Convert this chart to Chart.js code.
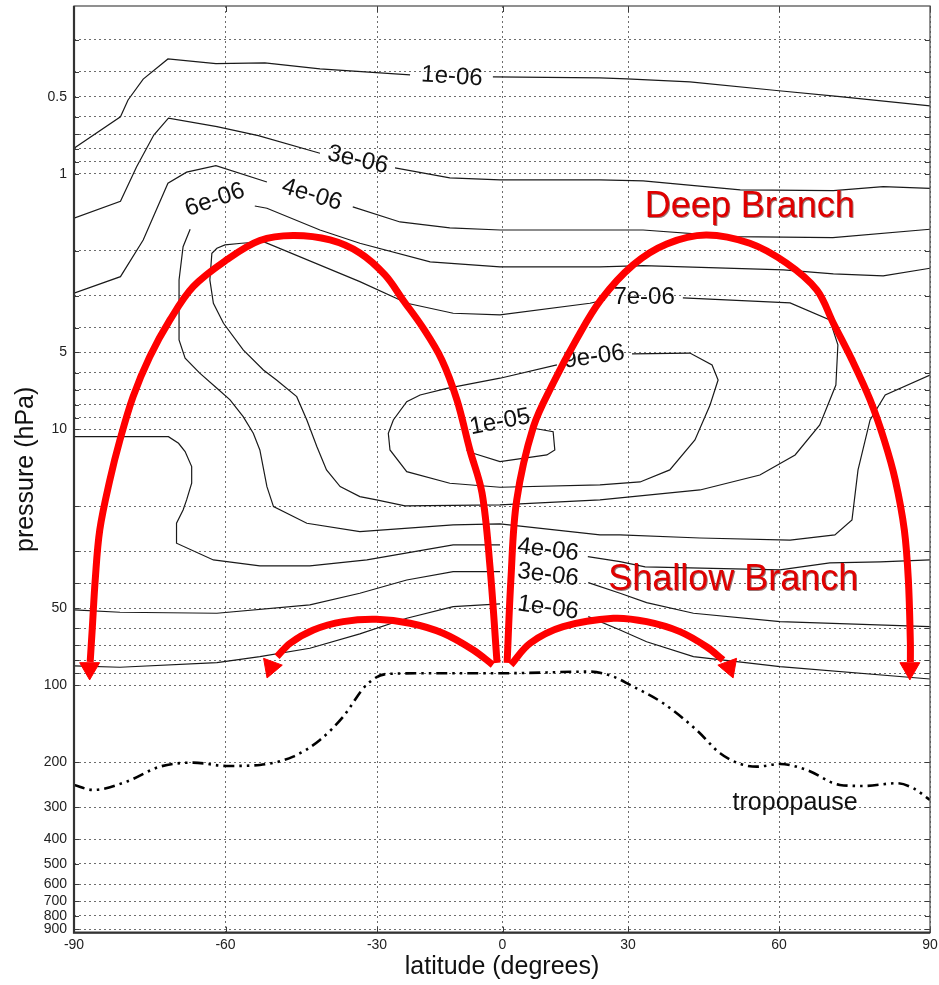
<!DOCTYPE html>
<html>
<head>
<meta charset="utf-8">
<script src="https://cdn.jsdelivr.net/npm/chart.js@4.4.1/dist/chart.umd.min.js"></script>
<style>
  html, body { margin: 0; padding: 0; background: #ffffff; }
  #wrap { width: 939px; height: 985px; }
</style>
</head>
<body>
<div id="wrap"><canvas id="c" width="939" height="985"></canvas></div>
<script>
// ---- axis values ----------------------------------------------------------
const LAT_TICKS = [-90, -60, -30, 0, 30, 60, 90];
const PRESSURE_LABELS = [0.5, 1, 5, 10, 50, 100, 200, 300, 400, 500, 600, 700, 800, 900];
const PRESSURE_MIN = 0.221;
const PRESSURE_MAX = 930;

// ---- contour lines: [latitude, pressure hPa] ----------------------------
const c1e6Top  = [[-90,0.796],[-80.8,0.599],[-79.3,0.515],[-76.3,0.427],[-71.4,0.356],[-61.9,0.371],[-52.2,0.369],[-41.3,0.389],[-22.1,0.411]];
const c1e6TopB = [[-2.3,0.418],[23.3,0.422],[29.7,0.426],[42.3,0.438],[59.5,0.473],[72.1,0.500],[90,0.543]];

const c3e6Top  = [[-90,1.494],[-80.8,1.282],[-77.6,0.939],[-74.2,0.706],[-71.3,0.607],[-61.7,0.655],[-53.5,0.710],[-41.3,0.832]];
const c3e6TopB = [[-25.7,0.950],[-12.6,1.039],[-0.6,1.058],[23.3,1.058],[33.0,1.068],[52.3,1.158],[70.8,1.166],[80.7,1.124],[90,1.141]];

const c4e6Top  = [[-90,2.935],[-80.8,2.528],[-76.3,1.817],[-71.4,1.090],[-67.7,0.987],[-61.9,0.930],[-51.8,1.078]];
const c4e6TopB = [[-34.8,1.349],[-24.5,1.545],[-12.6,1.631],[-0.6,1.661],[23.3,1.661],[33.0,1.661],[50.9,1.764],[70.7,1.780],[90,1.650]];

const c4e6Low  = [[-90,10.68],[-71.3,10.68],[-69.3,11.34],[-68.0,12.22],[-66.7,13.99],[-66.7,16.25],[-67.7,18.88],[-68.4,20.66],[-69.7,23.29],[-69.7,27.88],[-62.4,32.42],[-53.2,34.21],[-43.3,34.21],[-32.0,32.42],[-11.8,28.32],[-0.6,28.32]];
const c4e6LowB = [[20.4,31.47],[28.1,32.91],[33.4,34.52],[60.2,35.47],[70.1,33.3],[80.1,33.0],[90,32.42]];

const c6e6A = [[90,2.344],[80.7,2.512],[70.8,2.468],[60.9,2.380],[33.0,2.290],[23.3,2.315],[-0.6,2.317],[-17.3,2.214],[-33.4,1.872],[-41.3,1.661],[-51.8,1.366],[-54.2,1.338]];
const c6e6B = [[-67.0,1.650],[-68.4,1.930],[-69.2,2.604],[-69.2,4.47],[-68.0,5.27],[-65.1,6.03],[-61.7,6.91],[-59.1,7.67],[-56.5,8.92],[-54.5,10.36],[-53.2,12.04],[-51.8,16.75],[-50.5,20.06],[-43.9,23.29],[-33.4,25.12],[-11.8,23.65],[-0.6,23.44],[23.3,25.88],[28.1,25.88],[44.3,26.6],[62.2,27.1],[71.1,25.88],[74.5,22.61],[75.7,14.41],[78.1,9.19],[81.1,7.34],[90,6.13]];

const c7e6 = [[40.9,3.063],[62.2,3.204],[70.1,3.734],[71.7,4.676],[71.3,6.71],[68.1,9.61],[63.2,12.59],[56.2,15.08],[44.3,17.26],[23.3,18.88],[-0.6,19.75],[-23.3,19.93],[-30.1,18.88],[-33.4,18.33],[-37.3,16.75],[-40.0,14.41],[-41.9,11.69],[-43.9,9.19],[-45.9,7.45],[-49.9,6.41],[-52.5,5.86],[-56.5,4.89],[-60.4,3.847],[-62.4,3.213],[-63.1,2.604],[-62.7,2.048],[-61.7,1.958],[-60.1,1.900],[-56.8,1.872],[-52.5,1.845],[-33.4,2.645],[-22.8,3.213],[-11.8,3.516],[-0.6,3.569],[20.9,3.213],[24.5,3.118]];

const c9e6 = [[30.8,5.07],[42.3,5.03],[46.7,5.60],[47.9,6.41],[46.3,8.03],[43.3,11.00],[38.3,14.41],[32.4,16.06],[23.3,16.50],[-0.6,16.84],[-12.6,16.25],[-22.9,14.64],[-26.9,12.04],[-27.3,10.36],[-26.1,9.19],[-22.9,7.79],[-19.7,7.34],[-13.3,6.91],[-0.6,6.31],[13.0,5.60]];

const c1e5 = [[7.4,9.90],[12.1,10.21],[12.5,12.04],[10.6,12.59],[-0.6,13.38],[-7.0,12.40],[-8.6,12.04]];

const c3e6Low  = [[-90,50.85],[-80.9,51.92],[-61.7,52.39],[-43.3,48.61],[-33.4,43.75],[-22.9,38.82],[-11.8,36.02],[-0.6,36.02]];
const c3e6LowB = [[20.5,39.77],[28.1,43.75],[33.7,47.62],[43.0,52.39],[60.2,56.49],[90,59.10]];

const c1e6Low  = [[-90,84.2],[-80.9,85.2],[-61.7,81.7],[-53.2,77.4],[-43.3,71.8],[-33.4,63.1],[-22.9,54.8],[-11.8,49.36],[-0.6,48.18]];
const c1e6LowB = [[20.5,54.0],[28.1,60.9],[33.7,67.7],[43.0,77.4],[60.2,84.7],[90,94.7]];

// ---- tropopause ----------------------------------------------------------
const tropopause = [[-90,245.9],[-86.2,257.2],[-79.6,238.7],[-73.0,208.5],[-66.4,201.1],[-59.8,207.2],[-53.2,205.3],[-46.6,190.5],[-41.3,163.9],[-36.7,132.9],[-32.1,99.9],[-27.7,90.5],[-18.1,89.9],[0.2,89.9],[20.9,88.6],[26.5,92.7],[30.4,99.9],[37.0,117.8],[43.6,149.8],[48.3,184.8],[52.3,203.5],[55.6,208.5],[60.2,203.5],[65.5,214.8],[72.1,245.9],[76.7,248.1],[83.4,242.1],[86.7,253.3],[90,281.4]];

// ---- circulation branches ------------------------------------------------
const deepSouth = [[-1.3,81.9],[-3.0,34.4],[-4.9,17.73],[-7.8,12.04],[-10.9,7.67],[-14.5,5.35],[-19.0,4.012],[-23.8,3.118],[-28.1,2.490],[-33.4,2.042],[-39.3,1.816],[-46.6,1.745],[-53.2,1.825],[-59.8,2.175],[-66.4,2.766],[-71.0,3.734],[-75.0,5.20],[-78.3,7.45],[-80.9,11.00],[-82.9,15.77],[-84.9,24.74],[-85.8,38.81],[-86.4,60.9],[-86.8,81.2]];
const deepNorth = [[1.1,81.9],[2.0,38.81],[3.4,18.88],[7.4,9.76],[12.1,6.60],[17.6,4.47],[23.5,3.118],[31.0,2.276],[37.7,1.883],[45.5,1.737],[54.2,1.872],[61.5,2.240],[67.5,2.850],[70.8,3.847],[74.5,5.35],[78.1,7.67],[80.9,11.00],[83.1,15.77],[84.9,24.74],[85.7,38.81],[86.1,68.6],[86.1,81.2]];
const shallowSouth = [[-2.3,83.4],[-7.0,72.9],[-14.2,62.7],[-22.1,57.3],[-30.1,55.3],[-36.7,56.5],[-42.6,60.9],[-47.2,68.6],[-49.8,77.4]];
const shallowNorth = [[2.0,83.4],[6.6,68.6],[14.5,59.1],[26.5,54.8],[33.7,56.5],[40.3,61.8],[45.6,70.8],[48.9,79.8]];
const arrowHeads = [[-86.9,86.1],[86.0,86.1],[-51.0,85.1],[50.1,85.1]];
const arrowHeadTurn = [180, 180, 200, 160];

// ---- text placed in data coordinates -------------------------------------
const contourLabels = [
  { text: '1e-06', lat: -12.1, p: 0.418, angle: 4 },
  { text: '3e-06', lat: -33.8, p: 0.884, angle: 13 },
  { text: '4e-06', lat: -42.9, p: 1.211, angle: 17 },
  { text: '6e-06', lat: -62.1, p: 1.267, angle: -19 },
  { text: '7e-06', lat: 33.2,  p: 3.035, angle: 0 },
  { text: '9e-06', lat: 21.9,  p: 5.21,  angle: -8 },
  { text: '1e-05', lat: -0.6,  p: 9.36,  angle: -11 },
  { text: '4e-06', lat: 10.9,  p: 29.63, angle: 7 },
  { text: '3e-06', lat: 10.9,  p: 37.11, angle: 7 },
  { text: '1e-06', lat: 10.9,  p: 49.94, angle: 8 }
];
const branchLabels = [
  { text: 'Deep Branch',    lat: 54.2, p: 1.349 },
  { text: 'Shallow Branch', lat: 50.9, p: 38.81 }
];
const tropopauseLabel = { text: 'tropopause', lat: 63.2, p: 289.1 };

// ---- latitude axis with its own tick spacing -----------------------------
const AXIS_STOPS = [0, 0.177, 0.354, 0.5006, 0.6472, 0.8236, 1];

function latToFraction(lat) {
  for (let i = 1; i < LAT_TICKS.length; i++) {
    if (lat <= LAT_TICKS[i] || i === LAT_TICKS.length - 1) {
      const t = (lat - LAT_TICKS[i - 1]) / (LAT_TICKS[i] - LAT_TICKS[i - 1]);
      return AXIS_STOPS[i - 1] + t * (AXIS_STOPS[i] - AXIS_STOPS[i - 1]);
    }
  }
  return 0;
}
function fractionToLat(f) {
  for (let i = 1; i < AXIS_STOPS.length; i++) {
    if (f <= AXIS_STOPS[i] || i === AXIS_STOPS.length - 1) {
      const t = (f - AXIS_STOPS[i - 1]) / (AXIS_STOPS[i] - AXIS_STOPS[i - 1]);
      return LAT_TICKS[i - 1] + t * (LAT_TICKS[i] - LAT_TICKS[i - 1]);
    }
  }
  return 0;
}

class LatitudeScale extends Chart.LinearScale {
  getPixelForValue(value) {
    return this.getPixelForDecimal(latToFraction(value));
  }
  getValueForPixel(pixel) {
    return fractionToLat(this.getDecimalForPixel(pixel));
  }
}
LatitudeScale.id = 'latitude';
LatitudeScale.defaults = {};
Chart.register(LatitudeScale);

// ---- helpers ---------------------------------------------------------------
const FONT = "'Liberation Sans', Arial, Helvetica, sans-serif";
const toPoints = arr => arr.map(([x, y]) => ({ x, y }));

const pressureGrid = [];
for (let d = -1; d <= 2; d++) {
  for (let m = 1; m <= 9; m++) {
    const v = Number((m * Math.pow(10, d)).toPrecision(3));
    if (v >= PRESSURE_MIN && v <= PRESSURE_MAX) pressureGrid.push(v);
  }
}

function contourSet(arr) {
  return { data: toPoints(arr), borderColor: '#1a1a1a', borderWidth: 1.2, pointRadius: 0, tension: 0, fill: false, order: 3 };
}
function branchSet(arr) {
  return { data: toPoints(arr), borderColor: '#ff0000', borderWidth: 7, pointRadius: 0, tension: 0.35, fill: false, order: 0, borderCapStyle: 'butt' };
}

const datasets = [
  branchSet(deepSouth), branchSet(deepNorth), branchSet(shallowSouth), branchSet(shallowNorth),
  { data: toPoints(arrowHeads), showLine: false, pointStyle: 'triangle', pointRadius: 11.5,
    pointRotation: arrowHeadTurn, pointBackgroundColor: '#ff0000', pointBorderColor: '#ff0000',
    pointBorderWidth: 1, order: 0 },
  { data: toPoints(tropopause), borderColor: '#000000', borderWidth: 2.6, borderDash: [11, 5, 2.5, 5, 2.5, 5],
    pointRadius: 0, tension: 0, cubicInterpolationMode: 'monotone', fill: false, order: 1 },
  contourSet(c1e6Top), contourSet(c1e6TopB), contourSet(c3e6Top), contourSet(c3e6TopB),
  contourSet(c4e6Top), contourSet(c4e6TopB), contourSet(c4e6Low), contourSet(c4e6LowB),
  contourSet(c6e6A), contourSet(c6e6B), contourSet(c7e6), contourSet(c9e6), contourSet(c1e5),
  contourSet(c3e6Low), contourSet(c3e6LowB), contourSet(c1e6Low), contourSet(c1e6LowB)
];

function drawText(ctx, text, x, y, font, color, angle) {
  ctx.save();
  ctx.translate(x, y);
  ctx.rotate((angle || 0) * Math.PI / 180);
  ctx.font = font;
  ctx.fillStyle = color;
  ctx.textAlign = 'center';
  ctx.textBaseline = 'middle';
  ctx.fillText(text, 0, 0);
  ctx.restore();
}

const annotations = {
  id: 'annotations',
  beforeDatasetsDraw(chart) {
    const { ctx, scales: { x, y } } = chart;
    contourLabels.forEach(l => {
      drawText(ctx, l.text, x.getPixelForValue(l.lat), y.getPixelForValue(l.p), '24px ' + FONT, '#111111', l.angle);
    });
    drawText(ctx, tropopauseLabel.text, x.getPixelForValue(tropopauseLabel.lat), y.getPixelForValue(tropopauseLabel.p), '25px ' + FONT, '#111111', 0);
  },
  afterDatasetsDraw(chart) {
    const { ctx, chartArea: a, scales: { x, y } } = chart;
    branchLabels.forEach(l => {
      ctx.save();
      ctx.shadowColor = 'rgba(70,0,0,0.55)';
      ctx.shadowOffsetX = 1;
      ctx.shadowOffsetY = 1;
      ctx.shadowBlur = 0.5;
      drawText(ctx, l.text, x.getPixelForValue(l.lat), y.getPixelForValue(l.p), '36px ' + FONT, '#e00000', 0);
      ctx.restore();
    });
    // frame and inward tick marks
    ctx.save();
    ctx.strokeStyle = '#3a3a3a';
    ctx.lineWidth = 1;
    ctx.beginPath();
    y.ticks.forEach(t => {
      const py = Math.round(y.getPixelForValue(t.value)) + 0.5;
      ctx.moveTo(a.left, py); ctx.lineTo(a.left + 5, py);
      ctx.moveTo(a.right, py); ctx.lineTo(a.right - 5, py);
    });
    x.ticks.forEach(t => {
      const px = Math.round(x.getPixelForValue(t.value)) + 0.5;
      ctx.moveTo(px, a.bottom); ctx.lineTo(px, a.bottom - 6);
      ctx.moveTo(px, a.top); ctx.lineTo(px, a.top + 6);
    });
    ctx.stroke();
    ctx.strokeStyle = '#555555';
    ctx.lineWidth = 1.3;
    ctx.strokeRect(a.left, a.top, a.right - a.left, a.bottom - a.top);
    ctx.strokeStyle = '#333333';
    ctx.lineWidth = 2.2;
    ctx.beginPath();
    ctx.moveTo(a.left, a.top); ctx.lineTo(a.left, a.bottom); ctx.lineTo(a.right, a.bottom);
    ctx.stroke();
    ctx.restore();
  }
};

new Chart(document.getElementById('c'), {
  type: 'line',
  data: { datasets },
  options: {
    responsive: false,
    animation: false,
    events: [],
    layout: { autoPadding: false, padding: { top: 6, right: 9, left: 0, bottom: 0 } },
    plugins: { legend: { display: false }, tooltip: { enabled: false } },
    scales: {
      x: {
        type: 'latitude',
        min: -90, max: 90,
        afterBuildTicks: s => { s.ticks = LAT_TICKS.map(v => ({ value: v })); },
        afterFit: s => { s.height = 52.3; s.paddingLeft = 0; s.paddingRight = 0; },
        ticks: { autoSkip: false, maxRotation: 0, padding: 4, color: '#222222', font: { family: FONT, size: 14 },
                 callback: v => String(v) },
        grid: { color: 'rgba(60,60,60,0.75)', lineWidth: 1, drawTicks: false },
        border: { display: false, dash: [2, 3] },
        title: { display: true, text: 'latitude (degrees)', color: '#111111', font: { family: FONT, size: 25 }, padding: { top: 0, bottom: 3 } }
      },
      y: {
        type: 'logarithmic',
        reverse: true,
        min: PRESSURE_MIN, max: PRESSURE_MAX,
        afterBuildTicks: s => { s.ticks = pressureGrid.map(v => ({ value: v })); },
        afterFit: s => { s.width = 74; s.paddingTop = 0; s.paddingBottom = 0; },
        ticks: { autoSkip: false, padding: 7, color: '#222222', font: { family: FONT, size: 14 },
                 callback: v => PRESSURE_LABELS.includes(v) ? String(v) : '' },
        grid: { color: 'rgba(60,60,60,0.75)', lineWidth: 1, drawTicks: false },
        border: { display: false, dash: [2, 3] },
        title: { display: true, text: 'pressure (hPa)', color: '#111111', font: { family: FONT, size: 25 }, padding: { top: 11, bottom: 0 } }
      }
    }
  },
  plugins: [annotations]
});
</script>
</body>
</html>
